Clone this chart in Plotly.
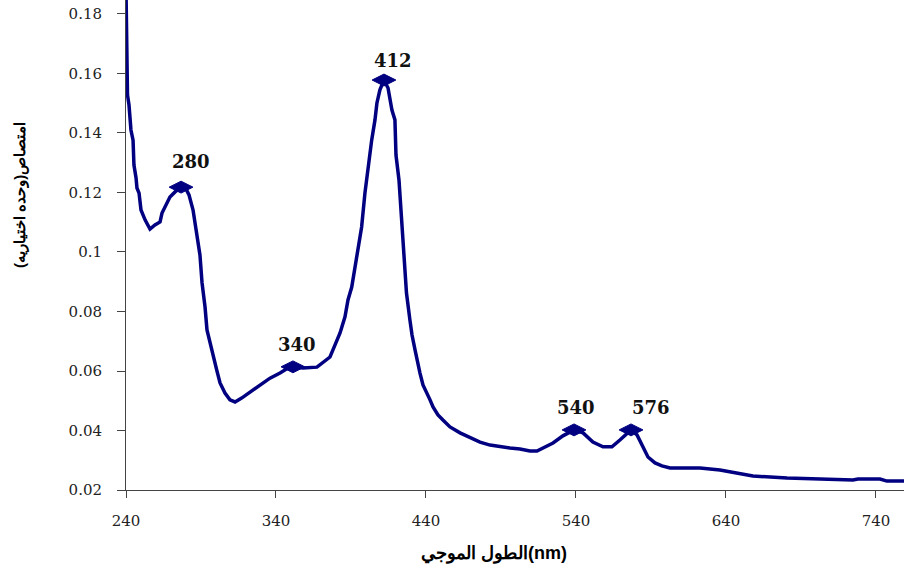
import plotly.graph_objects as go

# Spectrum (wavelength nm, absorbance)
wavelength = [240, 240.7, 241, 242, 243.3, 244.7, 245.3, 246.7, 247.3, 248.7, 250, 252.7, 254.7, 256,
              259.3, 262.7, 264, 266.7, 269.3, 272.7, 276.7, 280, 282, 284.7, 287.3, 289.3, 290.7, 292.7,
              294, 296, 298, 300.5, 302.7, 306, 309.3, 312.7, 317.1, 322.7, 329.3, 336, 342.7, 348,
              351.3, 358, 367.3, 371.3, 376, 379.3, 382.7, 386, 388, 390.5, 392.7, 394.7, 397.1, 399.3,
              401.3, 403.8, 406, 407.3, 409.3, 412, 414.7, 416, 417.3, 419.3, 420, 422, 423.3, 425.3,
              427, 429.3, 430.7, 432.7, 434.7, 436, 438, 440.7, 442.7, 444.7, 448, 451.3, 456, 462.7,
              469.3, 476, 482.7, 489.3, 496, 502.7, 509.3, 514, 518, 524.7, 531.3, 538.7, 544.7, 551.3,
              558, 564, 569.3, 574, 576.7, 580.7, 584, 588, 592.7, 597.3, 602.7, 622.7, 636, 647.3,
              658, 680.7, 702.7, 710.7, 724.7, 728, 742.7, 747.3, 760]
absorbance = [0.188, 0.1645, 0.1528, 0.1494, 0.141, 0.1376, 0.1292, 0.1249, 0.1215, 0.1198, 0.1141,
              0.1108, 0.1087, 0.1077, 0.1091, 0.1101, 0.1131, 0.1158, 0.1185, 0.1202, 0.1218, 0.1212,
              0.1192, 0.1141, 0.1064, 0.099, 0.0896, 0.0815, 0.0738, 0.0694, 0.0647, 0.0603, 0.056,
              0.0526, 0.0503, 0.0496, 0.0509, 0.0529, 0.0553, 0.0576, 0.0593, 0.061, 0.0614, 0.061,
              0.0613, 0.0627, 0.0647, 0.0687, 0.0728, 0.0782, 0.0839, 0.0882, 0.095, 0.1017, 0.1084,
              0.1198, 0.1286, 0.1376, 0.1444, 0.1501, 0.1545, 0.1578, 0.1551, 0.1511, 0.1477, 0.1444,
              0.1326, 0.1242, 0.1141, 0.1007, 0.0862, 0.0771, 0.0721, 0.0671, 0.062, 0.0593, 0.0553,
              0.0526, 0.0503, 0.0479, 0.0452, 0.0435, 0.0412, 0.0392, 0.0375, 0.0361, 0.0351, 0.0345,
              0.0341, 0.0338, 0.0331, 0.0331, 0.0341, 0.0358, 0.0382, 0.0402, 0.0392, 0.0361, 0.0345,
              0.0345, 0.0368, 0.0392, 0.0402, 0.0385, 0.0351, 0.0311, 0.0291, 0.0281, 0.0274, 0.0274,
              0.0267, 0.0257, 0.0247, 0.024, 0.0237, 0.0234, 0.0234, 0.0237, 0.0237, 0.023, 0.023]

# Marked peaks
peak_x = [276.7, 351.3, 412, 538.7, 576.7]
peak_y = [0.1218, 0.0614, 0.1578, 0.0402, 0.0402]
peak_labels = ["280", "340", "412", "540", "576"]

x_ticks = [240, 340, 440, 540, 640, 740]
y_ticks = [0.02, 0.04, 0.06, 0.08, 0.1, 0.12, 0.14, 0.16, 0.18]
y_tick_text = ["0.02", "0.04", "0.06", "0.08", "0.1", "0.12", "0.14", "0.16", "0.18"]

x_title = "الطول الموجي(nm)"
y_title = "امتصاص(وحده اختياريه)"

# label offsets in pixels (style)
label_dx = [10, 4, 9, 2, 20]
label_dy = [26, 22, 20, 22, 22]

navy = "#000080"

W, H = 904, 568
ML, MR, MT, MB = 126, 0, 0, 78
PW, PH = W - ML - MR, H - MT - MB


def paper_x(win_x):
    return (win_x - ML) / PW


def paper_y(win_y):
    return (H - MB - win_y) / PH


fig = go.Figure()
fig.add_trace(go.Scatter(x=wavelength, y=absorbance, mode="lines",
                         line=dict(color=navy, width=3.5), hoverinfo="skip"))
fig.add_trace(go.Scatter(x=peak_x, y=peak_y, mode="markers",
                         marker=dict(symbol="diamond-wide", size=17, color=navy,
                                     line=dict(color=navy, width=1))))

for px, py, lab, dx, dy in zip(peak_x, peak_y, peak_labels, label_dx, label_dy):
    fig.add_annotation(x=px, y=py, text="<b>" + lab + "</b>", showarrow=False,
                       xshift=dx, yshift=dy,
                       font=dict(family="DejaVu Serif", size=18, color="#111"),
                       xanchor="center", yanchor="middle")

tickfont = dict(family="DejaVu Serif", size=15, color="#222")

fig.update_layout(
    width=W, height=H,
    margin=dict(l=ML, r=MR, t=MT, b=MB, autoexpand=False),
    paper_bgcolor="white", plot_bgcolor="white",
    showlegend=False,
    xaxis=dict(range=[240, 758.7], tickvals=x_ticks, ticks="outside", ticklen=7,
               tickcolor="#444", showline=True, linecolor="#444", linewidth=1,
               showgrid=False, zeroline=False, tickfont=tickfont, ticklabelstandoff=10,
               automargin=False, ticklabeloverflow="allow"),
    yaxis=dict(range=[0.02, 0.1847], tickvals=y_ticks, ticktext=y_tick_text,
               ticks="outside", ticklen=8, tickcolor="#444", showline=True,
               linecolor="#444", linewidth=1, showgrid=False, zeroline=False,
               tickfont=tickfont, ticklabelstandoff=12, automargin=False,
               ticklabeloverflow="allow"),
)

fig.add_annotation(xref="paper", yref="paper", x=paper_x(494), y=paper_y(553),
                   text="<b>" + x_title + "</b>", showarrow=False,
                   font=dict(family="Liberation Sans", size=18, color="#000"),
                   xanchor="center", yanchor="middle")
fig.add_annotation(xref="paper", yref="paper", x=paper_x(20), y=paper_y(195),
                   text="<b>" + y_title + "</b>", showarrow=False, textangle=-90,
                   font=dict(family="Liberation Sans", size=15, color="#000"),
                   xanchor="center", yanchor="middle")

fig.write_html("out.html", config={"displayModeBar": False},
               post_script="document.body.style.margin='0';document.body.style.overflow='hidden';")
